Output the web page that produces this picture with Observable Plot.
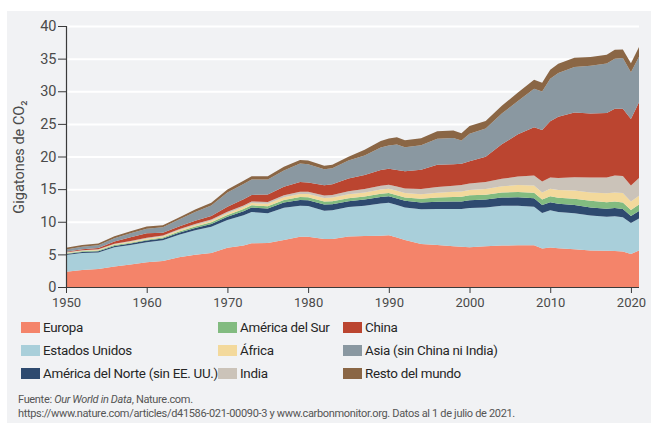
<!DOCTYPE html>
<html>
<head>
<meta charset="utf-8">
<script src="https://cdn.jsdelivr.net/npm/d3@7"></script>
<script src="https://cdn.jsdelivr.net/npm/@observablehq/plot@0.6"></script>
<style>
  html, body { margin: 0; padding: 0; background: #ffffff; }
  body { width: 651px; height: 423px; position: relative; overflow: hidden;
         font-family: Roboto, "Noto Sans", sans-serif; }
  #panel { position: absolute; left: 7px; top: 11px; width: 644px; height: 412px; background: #f1f2f4; }
  #chart { position: absolute; left: 0; top: 0; }
  #legend { position: absolute; left: 14px; top: 305px; display: grid;
            grid-auto-flow: column; grid-template-rows: repeat(3, 23px);
            grid-template-columns: 197px 125px auto; font-size: 13.4px; letter-spacing: -0.3px; color: #262626; }
  .item { display: flex; align-items: center; white-space: nowrap; }
  .sw { width: 19px; height: 11px; margin-right: 3px; flex: none; }
  #caption { position: absolute; left: 11px; top: 382px; font-size: 11px; line-height: 14px; color: #555; white-space: nowrap; letter-spacing: -0.33px; }
</style>
</head>
<body>
<div id="panel">
  <div id="chart"></div>
  <div id="legend"></div>
  <div id="caption">Fuente: <i>Our World in Data</i>, Nature.com.<br>https://www.nature.com/articles/d41586-021-00090-3 y www.carbonmonitor.org. Datos al 1 de julio de 2021.</div>
</div>
<script>
// ---- Data (Gt CO2 per year) ----
const years = [1950,1952,1954,1956,1958,1960,1962,1964,1966,1968,1970,1972,1973,1975,1977,1979,1980,1982,1983,1985,1987,1989,1990,1991,1992,1994,1996,1998,1999,2000,2002,2004,2006,2008,2009,2010,2011,2013,2015,2017,2018,2019,2020,2021];

const europa      = [2.35,2.6,2.75,3.15,3.45,3.8,4.0,4.55,4.95,5.2,6.0,6.35,6.7,6.75,7.2,7.7,7.7,7.35,7.35,7.75,7.8,7.85,7.95,7.6,7.2,6.6,6.45,6.25,6.15,6.1,6.25,6.35,6.4,6.4,5.9,6.05,5.95,5.8,5.6,5.55,5.5,5.45,5.05,5.6];
const estadosUnidos = [2.55,2.6,2.55,2.95,3.0,3.05,3.15,3.45,3.75,4.05,4.25,4.65,4.8,4.55,4.95,4.75,4.7,4.35,4.4,4.5,4.65,4.95,4.95,4.95,5.0,5.3,5.5,5.7,5.8,6.0,5.95,6.1,6.05,5.9,5.45,5.7,5.55,5.5,5.35,5.2,5.35,5.25,4.75,4.9];
const norteamerica = [0.15,0.16,0.17,0.2,0.22,0.26,0.28,0.32,0.36,0.42,0.5,0.62,0.68,0.72,0.8,0.88,0.9,0.95,0.95,0.9,0.95,1.0,1.0,1.0,1.0,1.05,1.1,1.15,1.15,1.2,1.2,1.25,1.3,1.3,1.2,1.25,1.25,1.25,1.25,1.25,1.25,1.25,1.1,1.15];
const sudamerica  = [0.1,0.1,0.11,0.12,0.13,0.15,0.17,0.19,0.21,0.24,0.28,0.32,0.34,0.36,0.4,0.45,0.45,0.45,0.45,0.47,0.48,0.5,0.5,0.52,0.53,0.58,0.65,0.7,0.72,0.75,0.75,0.78,0.82,0.85,0.85,0.9,0.92,0.98,1.0,1.0,1.0,1.0,0.9,1.0];
const africa      = [0.1,0.1,0.11,0.12,0.13,0.15,0.16,0.19,0.21,0.24,0.28,0.32,0.34,0.36,0.42,0.48,0.5,0.55,0.55,0.6,0.62,0.65,0.65,0.67,0.67,0.7,0.75,0.78,0.8,0.82,0.88,0.95,1.05,1.12,1.1,1.15,1.18,1.25,1.3,1.35,1.4,1.45,1.3,1.35];
const india       = [0.07,0.08,0.09,0.1,0.11,0.12,0.14,0.16,0.18,0.2,0.22,0.24,0.25,0.28,0.3,0.32,0.33,0.38,0.4,0.45,0.52,0.58,0.62,0.66,0.7,0.78,0.88,0.95,1.0,1.0,1.05,1.15,1.3,1.5,1.65,1.75,1.85,2.05,2.3,2.45,2.6,2.6,2.45,2.7];
const china       = [0.08,0.14,0.2,0.32,0.6,0.7,0.42,0.42,0.5,0.55,0.75,0.95,1.0,1.15,1.3,1.5,1.45,1.55,1.65,1.95,2.15,2.4,2.45,2.55,2.65,2.95,3.4,3.3,3.25,3.4,3.9,5.3,6.5,7.4,7.9,8.6,9.4,9.9,9.8,9.85,10.2,10.3,10.2,11.6];
const asia        = [0.35,0.38,0.42,0.5,0.58,0.7,0.85,1.05,1.35,1.6,2.2,2.35,2.35,2.3,2.5,2.85,2.8,2.45,2.45,2.75,3.0,3.45,3.55,3.9,3.65,3.75,4.0,4.0,3.6,4.2,4.3,4.7,5.1,5.9,5.9,6.5,6.7,7.0,7.3,7.6,7.7,7.8,7.15,7.0];
const resto       = [0.25,0.26,0.27,0.3,0.32,0.33,0.3,0.33,0.35,0.4,0.45,0.5,0.5,0.5,0.55,0.55,0.55,0.55,0.55,0.6,0.85,1.0,1.1,1.1,1.1,1.1,1.15,1.15,1.1,1.2,1.15,1.2,1.3,1.4,1.35,1.4,1.4,1.4,1.35,1.35,1.35,1.3,1.4,1.5];

const seriesNames = ["Europa","Estados Unidos","América del Norte (sin EE. UU.)","América del Sur","África","India","China","Asia (sin China ni India)","Resto del mundo"];
const seriesValues = [europa, estadosUnidos, norteamerica, sudamerica, africa, india, china, asia, resto];
const seriesColors = ["#f4846a","#a9cfda","#2e4a6f","#82bb80","#f3d99c","#cbc3b9","#bb4530","#8a98a1","#8a6645"];

const xTicks = [1950,1960,1970,1980,1990,2000,2010,2020];
const yTicks = [0,5,10,15,20,25,30,35,40];

// ---- Long table built from the arrays ----
const table = [];
years.forEach((yr, i) => {
  seriesNames.forEach((name, k) => table.push({year: yr, series: name, value: seriesValues[k][i]}));
});

const chart = Plot.plot({
  width: 644,
  height: 298,
  marginLeft: 59,
  marginRight: 12,
  marginTop: 15,
  marginBottom: 22,
  style: {background: "transparent", fontFamily: "Roboto, 'Noto Sans', sans-serif", fontSize: "13.5px", color: "#4a4a4a", overflow: "visible"},
  x: {domain: [1950, 2021]},
  y: {domain: [0, 40]},
  color: {domain: seriesNames, range: seriesColors},
  marks: [
    Plot.gridY(yTicks.slice(1), {stroke: "#ffffff", strokeOpacity: 1, strokeWidth: 2}),
    Plot.areaY(table, {x: "year", y: "value", fill: "series", curve: "linear"}),
    Plot.ruleX([1950], {stroke: "#3a3a3a", strokeWidth: 1.2}),
    Plot.ruleY([0], {stroke: "#3a3a3a", strokeWidth: 1.2}),
    Plot.axisX(xTicks, {tickFormat: d => String(d), tickSize: 6, tickPadding: 4, label: null, stroke: "#3a3a3a", fontSize: 13, letterSpacing: "-0.4px"}),
    Plot.axisY(yTicks, {tickSize: 8, tickPadding: 2, label: "Gigatones de CO₂", labelAnchor: "center", labelArrow: "none", labelOffset: 53, stroke: "#3a3a3a", fontSize: 14.5})
  ]
});
document.getElementById("chart").appendChild(chart);

// ---- Legend ----
const legend = document.getElementById("legend");
seriesNames.forEach((name, k) => {
  const item = document.createElement("div");
  item.className = "item";
  const sw = document.createElement("span");
  sw.className = "sw";
  sw.style.background = seriesColors[k];
  const label = document.createElement("span");
  label.textContent = name;
  item.appendChild(sw);
  item.appendChild(label);
  legend.appendChild(item);
});
</script>
</body>
</html>
